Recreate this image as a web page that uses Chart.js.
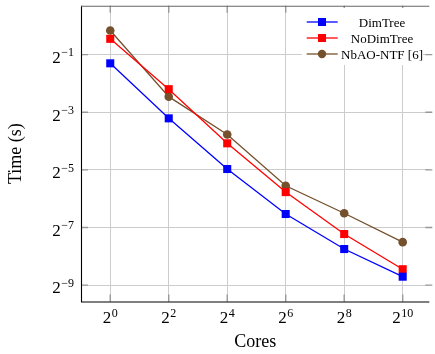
<!DOCTYPE html>
<html><head><meta charset="utf-8">
<script src="https://cdn.jsdelivr.net/npm/chart.js@4.4.0/dist/chart.umd.min.js"></script>
<style>html,body{margin:0;padding:0;background:#fff}canvas{display:block}</style>
</head><body>
<div style="width:435px;height:354px"><canvas id="c" width="435" height="354"></canvas></div>
<script>
const cores = [1, 4, 16, 64, 256, 1024];
const dimTree = [0.406, 0.108, 0.0319, 0.0108, 0.00465, 0.00239];
const noDimTree = [0.732, 0.218, 0.0592, 0.0183, 0.00667, 0.00286];
const nbao = [0.895, 0.182, 0.0733, 0.0213, 0.0110, 0.00549];
const xTickExps = [0, 2, 4, 6, 8, 10];
const yTickExps = [-1, -3, -5, -7, -9];
const seriesNames = ['DimTree', 'NoDimTree', 'NbAO-NTF [6]'];
const seriesColors = ['#0000ff', '#ff0000', '#74502c'];
const seriesStyles = ['rect', 'rect', 'circle'];
const seriesValues = [dimTree, noDimTree, nbao];

const FONT = 'Liberation Serif';

function expText(e) { return e < 0 ? '\u2212' + (-e) : String(e); }

function drawPow(ctx, e, x, y, mode) {
  ctx.font = '17px "' + FONT + '"';
  const wb = ctx.measureText('2').width;
  ctx.font = '12px "' + FONT + '"';
  const et = expText(e);
  const we = ctx.measureText(et).width;
  const w = wb + we + 0.5;
  let sx;
  if (mode === 'y') sx = x - w; else sx = x - w / 2;
  ctx.fillStyle = '#000';
  ctx.textAlign = 'left';
  ctx.textBaseline = 'alphabetic';
  ctx.font = '17px "' + FONT + '"';
  ctx.fillText('2', sx, y);
  ctx.font = '12px "' + FONT + '"';
  ctx.fillText(et, sx + wb + 0.5, y - 6.5);
}

function marker(ctx, style, x, y, color) {
  ctx.fillStyle = color;
  ctx.beginPath();
  if (style === 'rect') ctx.rect(x - 4, y - 4, 8, 8);
  else ctx.arc(x, y, 4.2, 0, Math.PI * 2);
  ctx.fill();
}

const decor = {
  id: 'decor',
  afterDatasetsDraw(chart) {
    const ctx = chart.ctx;
    const a = chart.chartArea;
    const xs = chart.scales.x, ys = chart.scales.y;
    ctx.save();
    // inward ticks
    ctx.strokeStyle = '#999';
    ctx.lineWidth = 1.4;
    xTickExps.forEach(e => {
      const px = xs.getPixelForValue(Math.pow(2, e));
      ctx.beginPath();
      ctx.moveTo(px, a.bottom); ctx.lineTo(px, a.bottom - 7);
      ctx.moveTo(px, a.top); ctx.lineTo(px, a.top + 7);
      ctx.stroke();
    });
    yTickExps.forEach(e => {
      const py = ys.getPixelForValue(Math.pow(2, e));
      ctx.beginPath();
      ctx.moveTo(a.left, py); ctx.lineTo(a.left + 7, py);
      ctx.moveTo(a.right + 3, py); ctx.lineTo(a.right - 4, py);
      ctx.stroke();
    });
    // frame
    ctx.strokeStyle = '#000';
    ctx.lineWidth = 1.1;
    ctx.beginPath();
    ctx.moveTo(a.left + 0.5, a.top); ctx.lineTo(a.left + 0.5, a.bottom + 0.5);
    ctx.lineTo(a.right, a.bottom + 0.5);
    ctx.stroke();
    ctx.strokeStyle = '#666';
    ctx.beginPath();
    ctx.moveTo(a.left, a.top + 0.5); ctx.lineTo(a.right, a.top + 0.5);
    ctx.stroke();
    // tick labels
    xTickExps.forEach(e => {
      const px = xs.getPixelForValue(Math.pow(2, e));
      drawPow(ctx, e, px, 323.3, 'x');
    });
    yTickExps.forEach(e => {
      const py = ys.getPixelForValue(Math.pow(2, e));
      drawPow(ctx, e, 74, py + 8.3, 'y');
    });
    // legend
    ctx.fillStyle = '#fff';
    ctx.fillRect(302, 8, 121, 57);
    seriesNames.forEach((n, i) => {
      const ry = 22 + 16 * i;
      ctx.strokeStyle = seriesColors[i];
      ctx.lineWidth = 1.3;
      ctx.beginPath();
      ctx.moveTo(306.7, ry); ctx.lineTo(337.7, ry);
      ctx.stroke();
      marker(ctx, seriesStyles[i], 322, ry, seriesColors[i]);
      ctx.fillStyle = '#000';
      ctx.font = '13px "' + FONT + '"';
      ctx.textAlign = 'center';
      ctx.textBaseline = 'alphabetic';
      ctx.fillText(n, 382, ry + 4.5);
    });
    ctx.restore();
  }
};

const datasets = seriesNames.map((n, i) => ({
  label: n,
  data: cores.map((c, j) => ({ x: c, y: seriesValues[i][j] })),
  borderColor: seriesColors[i],
  backgroundColor: seriesColors[i],
  borderWidth: 1.3,
  pointStyle: seriesStyles[i],
  pointRadius: seriesStyles[i] === 'rect' ? 5.7 : 4.3,
  pointBorderWidth: 0,
  pointHoverRadius: 0,
  tension: 0,
  clip: false
}));

new Chart(document.getElementById('c'), {
  type: 'line',
  data: { datasets },
  plugins: [decor],
  options: {
    responsive: false,
    animation: false,
    devicePixelRatio: 1,
    layout: { padding: { top: 5, right: 0, left: 0, bottom: 0 } },
    plugins: { legend: { display: false }, tooltip: { enabled: false } },
    scales: {
      x: {
        type: 'logarithmic',
        min: Math.pow(2, -1),
        max: Math.pow(2, 10.91),
        afterBuildTicks: s => { s.ticks = xTickExps.map(e => ({ value: Math.pow(2, e) })); },
        afterFit: s => { s.height = 52.5; },
        ticks: { display: false },
        grid: { color: '#cccccc', lineWidth: 1, drawTicks: false },
        border: { display: false },
        title: { display: true, text: 'Cores', color: '#000', font: { family: FONT, size: 18 }, padding: { top: 0, bottom: 1 } }
      },
      y: {
        type: 'logarithmic',
        min: Math.pow(2, -9.57),
        max: Math.pow(2, 0.7),
        afterBuildTicks: s => { s.ticks = yTickExps.map(e => ({ value: Math.pow(2, e) })); },
        afterFit: s => { s.width = 81; },
        ticks: { display: false },
        grid: { color: '#cccccc', lineWidth: 1, drawTicks: false },
        border: { display: false },
        title: { display: true, text: 'Time (s)', color: '#000', font: { family: FONT, size: 18 }, padding: { top: 5, bottom: 0 } }
      }
    }
  }
});
</script>
</body></html>
